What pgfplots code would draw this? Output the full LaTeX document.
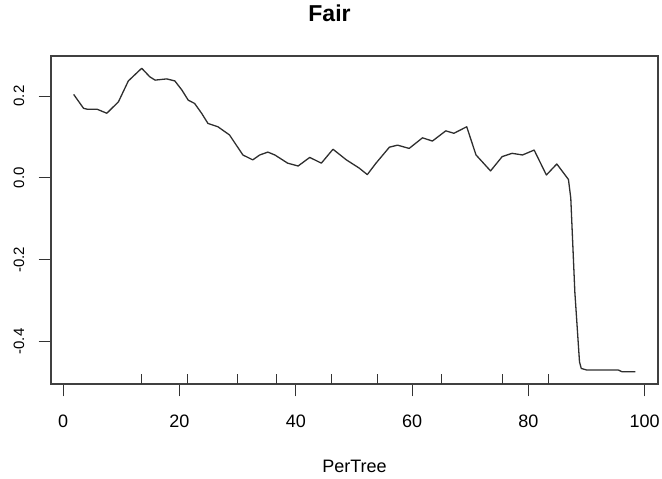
\documentclass[border=0pt]{standalone}
\usepackage{fontspec}
\setmainfont{Liberation Sans}
\usepackage{pgfplots}
\pgfplotsset{compat=1.18}

\begin{document}
\begin{tikzpicture}[x=1pt,y=1pt]
\begin{axis}[
  at={(51pt,95pt)}, anchor=south west,
  scale only axis, width=607pt, height=328pt,
  xmin=-2.1, xmax=102.3, ymin=-0.504, ymax=0.298,
  axis line style={black!75, line width=1.2pt},
  tick pos=left, tick align=outside,
  major tick length=12.5pt,
  tick style={black!80, line width=1pt},
  xtick={0,20,40,60,80,100},
  ytick={-0.4,-0.2,0,0.2},
  /pgf/number format/assume math mode=true,
  yticklabel={\pgfmathprintnumber[fixed,fixed zerofill,precision=1]{\tick}},
  xticklabel style={font=\fontsize{18}{18}\selectfont, anchor=north, inner sep=0pt, yshift=-18pt},
  yticklabel style={font=\fontsize{15}{15}\selectfont, inner sep=0pt, xshift=-14pt, rotate=90, anchor=south},
  xlabel={PerTree},
  xlabel style={font=\fontsize{18}{18}\selectfont, at={(axis description cs:0.5,0)}, anchor=center, yshift=-82pt},
  title={Fair},
  title style={font=\fontsize{23}{23}\selectfont\bfseries, at={(axis description cs:0.5,1)}, anchor=center, yshift=37pt, xshift=-25pt},
  unbounded coords=jump,
]
% partial dependence curve
\addplot[black!82, line width=1.3pt, line join=round] coordinates {
  (1.8,0.204) (3.5,0.170) (4.1,0.168) (5.8,0.168) (7.5,0.158)
  (9.5,0.186) (11.2,0.237) (13.5,0.268) (14.9,0.247) (15.8,0.239)
  (17.8,0.242) (19.2,0.237) (20.4,0.215) (21.5,0.190) (22.6,0.182)
  (23.8,0.158) (24.9,0.133) (26.6,0.125) (28.6,0.105) (30.9,0.056)
  (32.6,0.044) (33.8,0.056) (35.2,0.063) (36.4,0.056) (38.6,0.036)
  (40.4,0.029) (42.4,0.050) (44.4,0.036) (46.4,0.070) (48.7,0.044)
  (50.9,0.024) (52.3,0.008) (53.8,0.036) (56.1,0.075) (57.5,0.080)
  (59.5,0.072) (61.8,0.098) (63.5,0.090) (65.8,0.115) (67.2,0.109)
  (69.4,0.125) (71.0,0.056) (73.5,0.017) (75.5,0.052) (77.2,0.060)
  (79.0,0.056) (81.0,0.068) (83.1,0.007) (84.9,0.034) (86.9,-0.004)
  (87.3,-0.050) (88.0,-0.280) (88.8,-0.450) (89.1,-0.466) (90.1,-0.470)
  (95.5,-0.470) (96.1,-0.474) (98.4,-0.474)
};
% rug of the deciles of PerTree
\addplot[black!80, line width=1pt] coordinates {
  (13.5,-0.504) (13.5,-0.479) (13.5,nan)
  (21.3,-0.504) (21.3,-0.479) (21.3,nan)
  (29.9,-0.504) (29.9,-0.479) (29.9,nan)
  (36.7,-0.504) (36.7,-0.479) (36.7,nan)
  (46.1,-0.504) (46.1,-0.479) (46.1,nan)
  (54.0,-0.504) (54.0,-0.479) (54.0,nan)
  (65.1,-0.504) (65.1,-0.479) (65.1,nan)
  (75.5,-0.504) (75.5,-0.479) (75.5,nan)
  (83.4,-0.504) (83.4,-0.479)
};
\end{axis}
\pgfresetboundingbox
\path (0,0) rectangle (662,479);
\end{tikzpicture}
\end{document}
